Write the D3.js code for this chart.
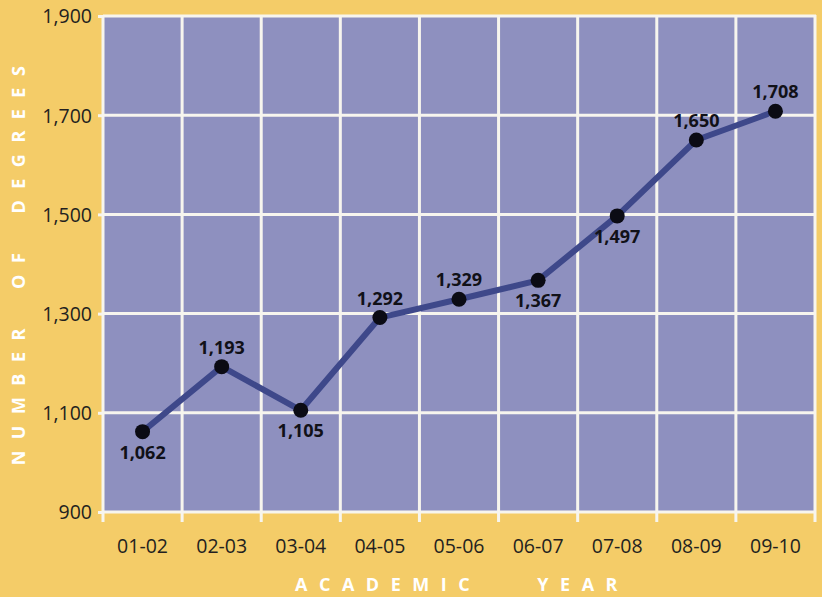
<!DOCTYPE html>
<html>
<head>
<meta charset="utf-8">
<script src="https://cdn.jsdelivr.net/npm/d3@7"></script>
<style>
  html, body { margin: 0; padding: 0; background: #F4CC68; }
  svg { display: block; }
</style>
</head>
<body>
<svg id="chart" width="822" height="597"></svg>
<script>
// Degrees awarded per academic year
const years = ["01-02", "02-03", "03-04", "04-05", "05-06", "06-07", "07-08", "08-09", "09-10"];
const degrees = [1062, 1193, 1105, 1292, 1329, 1367, 1497, 1650, 1708];
const labelSide = ["below", "above", "below", "above", "above", "below", "below", "above", "above"];
const yTicks = [900, 1100, 1300, 1500, 1700, 1900];
const xTitle = "ACADEMIC YEAR";
const yTitle = "NUMBER OF DEGREES";

const W = 822, H = 597;
const plot = { left: 103, right: 815, top: 16, bottom: 512 };

const svg = d3.select("#chart");

svg.append("rect")
  .attr("width", W).attr("height", H)
  .attr("fill", "#F4CC68");

const x = d3.scaleBand()
  .domain(years)
  .range([plot.left, plot.right])
  .paddingInner(0).paddingOuter(0);

const y = d3.scaleLinear()
  .domain([900, 1900])
  .range([plot.bottom, plot.top]);

// plot background
svg.append("rect")
  .attr("x", plot.left).attr("y", plot.top)
  .attr("width", plot.right - plot.left)
  .attr("height", plot.bottom - plot.top)
  .attr("fill", "#8E90BF");

const gridColor = "#F7F5EE";
const font = "'Open Sans', 'Noto Sans', sans-serif";

// vertical grid lines at band boundaries, reaching a little below the plot
const xEdges = years.map(d => x(d)).concat([x(years[years.length - 1]) + x.bandwidth()]);
svg.append("g").selectAll("line")
  .data(xEdges)
  .join("line")
  .attr("x1", d => d).attr("x2", d => d)
  .attr("y1", plot.top - 1).attr("y2", plot.bottom + 10)
  .attr("stroke", gridColor).attr("stroke-width", 3);

// y axis: ticks on the left, gridlines across the plot
const yAxis = d3.axisLeft(y)
  .tickValues(yTicks)
  .tickFormat(d3.format(","))
  .tickSize(5)
  .tickPadding(6);

const gy = svg.append("g")
  .attr("transform", `translate(${plot.left},0)`)
  .call(yAxis);
gy.select(".domain").remove();
gy.selectAll(".tick line")
  .attr("stroke", gridColor).attr("stroke-width", 3);
gy.selectAll(".tick text")
  .attr("fill", "#231F20")
  .attr("font-family", font)
  .attr("font-size", 19.5)
  .attr("dy", "0.35em");

svg.append("g").selectAll("line")
  .data(yTicks)
  .join("line")
  .attr("x1", plot.left).attr("x2", plot.right + 1)
  .attr("y1", d => y(d)).attr("y2", d => y(d))
  .attr("stroke", gridColor).attr("stroke-width", 3);

// x axis labels
const xAxis = d3.axisBottom(x).tickSize(0).tickPadding(0);
const gx = svg.append("g")
  .attr("transform", `translate(0,${plot.bottom})`)
  .call(xAxis);
gx.select(".domain").remove();
gx.selectAll(".tick text")
  .attr("fill", "#231F20")
  .attr("font-family", font)
  .attr("font-size", 19.5)
  .attr("y", 41)
  .attr("dy", 0);

// line series
const pts = years.map((yr, i) => ({ yr, v: degrees[i], side: labelSide[i] }));
const cx = d => x(d.yr) + x.bandwidth() / 2;

svg.append("path")
  .datum(pts)
  .attr("fill", "none")
  .attr("stroke", "#3E488A")
  .attr("stroke-width", 6)
  .attr("stroke-linejoin", "round")
  .attr("d", d3.line().x(cx).y(d => y(d.v)));

svg.append("g").selectAll("circle")
  .data(pts)
  .join("circle")
  .attr("cx", cx)
  .attr("cy", d => y(d.v))
  .attr("r", 7.5)
  .attr("fill", "#0B0B14");

svg.append("g").selectAll("text")
  .data(pts)
  .join("text")
  .attr("x", cx)
  .attr("y", d => y(d.v) + (d.side === "above" ? -13 : 27))
  .attr("text-anchor", "middle")
  .attr("font-family", font)
  .attr("font-weight", 700)
  .attr("font-size", 18)
  .attr("fill", "#111118")
  .text(d => d3.format(",")(d.v));

// axis titles
svg.append("text")
  .attr("x", 462).attr("y", 591)
  .attr("text-anchor", "middle")
  .attr("font-family", font)
  .attr("font-weight", 700)
  .attr("font-size", 18)
  .attr("letter-spacing", 11.5)
  .attr("word-spacing", 40)
  .attr("fill", "#FFFFFF")
  .text(xTitle);

svg.append("text")
  .attr("transform", "translate(25,260) rotate(-90)")
  .attr("text-anchor", "middle")
  .attr("font-family", font)
  .attr("font-weight", 700)
  .attr("font-size", 18)
  .attr("letter-spacing", 11.5)
  .attr("word-spacing", 12)
  .attr("fill", "#FFFFFF")
  .text(yTitle);
</script>
</body>
</html>
